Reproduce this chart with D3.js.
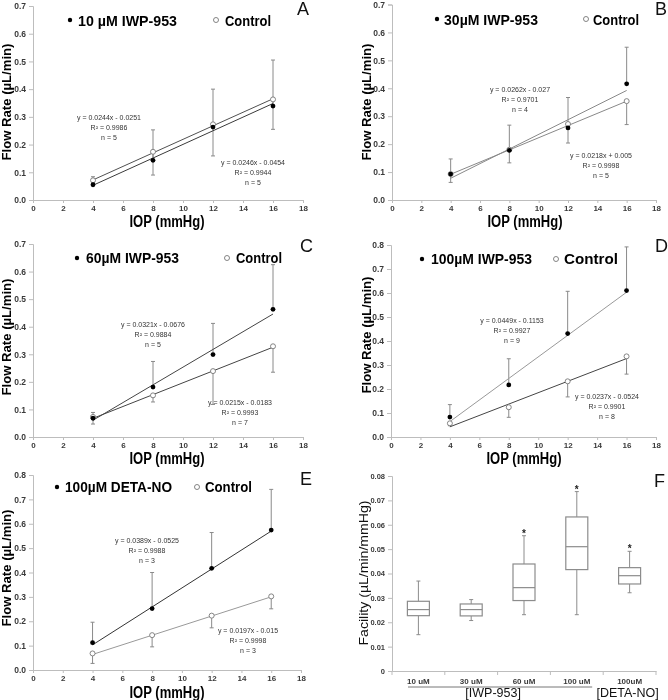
<!DOCTYPE html>
<html><head><meta charset="utf-8">
<script src="https://cdn.jsdelivr.net/npm/d3@7"></script>
<style>body{margin:0;background:#fff}svg{display:block;will-change:transform}</style>
</head><body>
<svg id="chart" width="668" height="700"></svg>
<script>
// ---------- DATA ----------
const iop = [4, 8, 12, 16];
const xTickValues = [0, 2, 4, 6, 8, 10, 12, 14, 16, 18];
const legendNames = ["10 µM IWP-953", "30µM IWP-953", "60µM IWP-953", "100µM IWP-953", "100µM DETA-NO"];
const controlName = "Control";
const panelLetters = ["A", "B", "C", "D", "E", "F"];

// Panel A (10 µM IWP-953)
const drugA = [0.055, 0.143, 0.263, 0.339];
const drugErrA = [0.029, 0.110, 0.137, 0.166];
const ctrlA = [0.071, 0.174, 0.273, 0.363];
const ctrlErrA = [0.008, 0.084, 0.114, 0.108];
const slopeA = [0.0246, 0.0244], interceptA = [-0.0454, -0.0251], r2A = [0.9944, 0.9986], nA = [5, 5];

// Panel B (30 µM IWP-953)
const drugB = [0.093, 0.178, 0.258, 0.416];
const drugErrB = [0.054, 0.090, 0.109, 0.131];
const ctrlB = [0.093, 0.180, 0.272, 0.354];
const ctrlErrB = [0.030, 0.047, 0.068, 0.084];
const slopeB = [0.0262, 0.0218], interceptB = [-0.027, 0.005], r2B = [0.9701, 0.9998], nB = [4, 5];

// Panel C (60 µM IWP-953)
const drugC = [0.068, 0.181, 0.299, 0.463];
const drugErrC = [0.021, 0.093, 0.113, 0.162];
const ctrlC = [0.073, 0.151, 0.239, 0.329];
const ctrlErrC = [0.026, 0.024, 0.121, 0.094];
const slopeC = [0.0321, 0.0215], interceptC = [-0.0676, -0.0183], r2C = [0.9884, 0.9993], nC = [5, 7];

// Panel D (100 µM IWP-953)
const drugD = [0.083, 0.217, 0.431, 0.610];
const drugErrD = [0.052, 0.109, 0.176, 0.182];
const ctrlD = [0.057, 0.124, 0.232, 0.336];
const ctrlErrD = [0.010, 0.042, 0.065, 0.074];
const slopeD = [0.0449, 0.0237], interceptD = [-0.1153, -0.0524], r2D = [0.9927, 0.9901], nD = [9, 8];

// Panel E (100 µM DETA-NO)
const drugE = [0.112, 0.252, 0.417, 0.574];
const drugErrE = [0.084, 0.148, 0.147, 0.167];
const ctrlE = [0.068, 0.143, 0.223, 0.302];
const ctrlErrE = [0.041, 0.048, 0.050, 0.051];
const slopeE = [0.0389, 0.0197], interceptE = [-0.0525, -0.015], r2E = [0.9988, 0.9998], nE = [3, 3];

// Panel F (facility box plot)
const facCats = ["10 uM", "30 uM", "60 uM", "100 uM", "100uM"];
const facMin = [0.0149, 0.0207, 0.0231, 0.0231, 0.0321];
const facQ1 = [0.0227, 0.0226, 0.0289, 0.0416, 0.0357];
const facMed = [0.0252, 0.0252, 0.0342, 0.0510, 0.0391];
const facQ3 = [0.0286, 0.0275, 0.0439, 0.0632, 0.0424];
const facMax = [0.0369, 0.0293, 0.0555, 0.0736, 0.0491];
const facSig = ["", "", "*", "*", "*"];
const facTicks = [0, 0.01, 0.02, 0.03, 0.04, 0.05, 0.06, 0.07, 0.08];
const groupLabels = ["[IWP-953]", "[DETA-NO]"];

// ---------- STYLE ----------
const FONT = "'Liberation Sans', Arial, sans-serif";
const AXIS = "#bdbdbd";
const TICKTXT = "#3a3a3a";
const svg = d3.select("#chart");

const panels = [
  {drug: drugA, drugErr: drugErrA, ctrl: ctrlA, ctrlErr: ctrlErrA, slope: slopeA, icpt: interceptA, r2: r2A, n: nA,
   x0: 33, x1: 303, yTop: 6, y0: 200, yMax: 0.7, xTitle: [167, 227], yTitle: [11, 102], letter: [297, 15],
   dot: [70, 20], txt: [78, 26, 99], cdot: [216, 20], ctxt: [225, 26, 46],
   eq: [[253, 164.5], [109, 119.5]], lc: ["#3a3a3a", "#505050"]},
  {drug: drugB, drugErr: drugErrB, ctrl: ctrlB, ctrlErr: ctrlErrB, slope: slopeB, icpt: interceptB, r2: r2B, n: nB,
   x0: 392, x1: 656, yTop: 4.5, y0: 200, yMax: 0.7, xTitle: [525, 227], yTitle: [371, 102], letter: [655, 15],
   dot: [437, 19], txt: [444, 25, 94], cdot: [586, 19], ctxt: [593, 25, 46],
   eq: [[520, 91.5], [601, 157.5]], lc: ["#888", "#888"]},
  {drug: drugC, drugErr: drugErrC, ctrl: ctrlC, ctrlErr: ctrlErrC, slope: slopeC, icpt: interceptC, r2: r2C, n: nC,
   x0: 33, x1: 303, yTop: 244, y0: 437, yMax: 0.7, xTitle: [167, 464], yTitle: [11, 337], letter: [300, 252],
   dot: [77, 258], txt: [86, 263, 93], cdot: [227, 258], ctxt: [236, 263, 46],
   eq: [[153, 326.5], [240, 405]], lc: ["#444", "#444"]},
  {drug: drugD, drugErr: drugErrD, ctrl: ctrlD, ctrlErr: ctrlErrD, slope: slopeD, icpt: interceptD, r2: r2D, n: nD,
   x0: 391, x1: 656, yTop: 245, y0: 437, yMax: 0.8, xTitle: [524, 464], yTitle: [371, 335], letter: [655, 252],
   dot: [422, 259], txt: [431, 264, 101], cdot: [556, 259], ctxt: [564, 264, 54],
   eq: [[512, 322.5], [607, 398.5]], lc: ["#999", "#444"]},
  {drug: drugE, drugErr: drugErrE, ctrl: ctrlE, ctrlErr: ctrlErrE, slope: slopeE, icpt: interceptE, r2: r2E, n: nE,
   x0: 33, x1: 301, yTop: 475, y0: 670, yMax: 0.8, xTitle: [167, 697.5], yTitle: [11, 568], letter: [300, 485],
   dot: [57, 487], txt: [65, 492, 107], cdot: [197, 487], ctxt: [205, 492, 47],
   eq: [[147, 543], [248, 632.5]], lc: ["#333", "#999"]}
];

function styleAxis(a, size) {
  a.attr("color", AXIS).attr("font-family", FONT).attr("font-size", size).attr("font-weight", "bold");
  a.selectAll("text").attr("fill", TICKTXT);
}

panels.forEach((p, k) => {
  const g = svg.append("g");
  const x = d3.scaleLinear().domain([0, 18]).range([p.x0, p.x1]);
  const y = d3.scaleLinear().domain([0, p.yMax]).range([p.y0, p.yTop]);
  const yTicks = d3.range(0, Math.round(p.yMax * 10) + 1).map(i => i / 10);

  const ya = g.append("g").attr("transform", `translate(${p.x0},0)`)
    .call(d3.axisLeft(y).tickValues(yTicks).tickSize(4).tickPadding(3).tickFormat(d3.format(".1f")));
  styleAxis(ya, 8.5);
  const xa = g.append("g").attr("transform", `translate(0,${p.y0})`)
    .call(d3.axisBottom(x).tickValues(xTickValues).tickSize(3).tickPadding(2.5));
  styleAxis(xa, 8);

  const series = [
    {vals: p.drug, errs: p.drugErr, dir: 1},
    {vals: p.ctrl, errs: p.ctrlErr, dir: -1}
  ];

  // error bars
  series.forEach(s => {
    const d = iop.map((xv, i) => ({xv, v: s.vals[i], e: s.errs[i]}));
    g.selectAll(null).data(d).join("line")
      .attr("x1", t => x(t.xv)).attr("x2", t => x(t.xv))
      .attr("y1", t => y(t.v)).attr("y2", t => y(t.v + s.dir * t.e))
      .attr("stroke", "#8a8a8a").attr("stroke-width", 1);
    g.selectAll(null).data(d).join("line")
      .attr("x1", t => x(t.xv) - 2).attr("x2", t => x(t.xv) + 2)
      .attr("y1", t => y(t.v + s.dir * t.e)).attr("y2", t => y(t.v + s.dir * t.e))
      .attr("stroke", "#8a8a8a").attr("stroke-width", 1);
  });

  // trend lines
  [0, 1].forEach(j => {
    const ends = [iop[0], iop[iop.length - 1]].map(xv => [xv, p.slope[j] * xv + p.icpt[j]]);
    g.append("path").datum(ends)
      .attr("d", d3.line().x(t => x(t[0])).y(t => y(t[1])))
      .attr("fill", "none").attr("stroke", p.lc[j]).attr("stroke-width", 1);
  });

  // markers
  g.selectAll(null).data(iop.map((xv, i) => ({xv, v: p.ctrl[i]}))).join("circle")
    .attr("cx", t => x(t.xv)).attr("cy", t => y(t.v)).attr("r", 2.5)
    .attr("fill", "#fff").attr("stroke", "#777").attr("stroke-width", 0.9);
  g.selectAll(null).data(iop.map((xv, i) => ({xv, v: p.drug[i]}))).join("circle")
    .attr("cx", t => x(t.xv)).attr("cy", t => y(t.v)).attr("r", 2.4)
    .attr("fill", "#000");

  // equations
  [0, 1].forEach(j => {
    const b = p.icpt[j];
    const lines = [`y = ${p.slope[j]}x ${b < 0 ? "-" : "+"} ${Math.abs(b)}`, `R² = ${p.r2[j]}`, `n = ${p.n[j]}`];
    g.selectAll(null).data(lines).join("text")
      .attr("x", p.eq[j][0]).attr("y", (t, i) => p.eq[j][1] + i * 10)
      .attr("text-anchor", "middle").attr("font-family", FONT).attr("font-size", 7)
      .attr("fill", "#333").text(t => t);
  });

  // legend
  g.append("circle").attr("cx", p.dot[0]).attr("cy", p.dot[1]).attr("r", 2.2).attr("fill", "#000");
  g.append("text").attr("x", p.txt[0]).attr("y", p.txt[1]).attr("textLength", p.txt[2])
    .attr("lengthAdjust", "spacingAndGlyphs")
    .attr("font-family", FONT).attr("font-size", 15).attr("font-weight", "bold").attr("fill", "#000")
    .text(legendNames[k]);
  g.append("circle").attr("cx", p.cdot[0]).attr("cy", p.cdot[1]).attr("r", 2.5)
    .attr("fill", "#fff").attr("stroke", "#777").attr("stroke-width", 0.9);
  g.append("text").attr("x", p.ctxt[0]).attr("y", p.ctxt[1]).attr("textLength", p.ctxt[2])
    .attr("lengthAdjust", "spacingAndGlyphs")
    .attr("font-family", FONT).attr("font-size", 15).attr("font-weight", "bold").attr("fill", "#000")
    .text(controlName);

  // axis titles
  g.append("text").attr("x", p.xTitle[0]).attr("y", p.xTitle[1]).attr("text-anchor", "middle")
    .attr("textLength", 75).attr("lengthAdjust", "spacingAndGlyphs")
    .attr("font-family", FONT).attr("font-size", 16).attr("font-weight", "bold").attr("fill", "#000")
    .text("IOP (mmHg)");
  g.append("text").attr("transform", `translate(${p.yTitle[0]},${p.yTitle[1]}) rotate(-90)`)
    .attr("text-anchor", "middle").attr("textLength", 117).attr("lengthAdjust", "spacingAndGlyphs")
    .attr("font-family", FONT).attr("font-size", 13).attr("font-weight", "bold").attr("fill", "#000")
    .text("Flow Rate (µL/min)");

  // panel letter
  g.append("text").attr("x", p.letter[0]).attr("y", p.letter[1])
    .attr("font-family", FONT).attr("font-size", 18).attr("fill", "#111").text(panelLetters[k]);
});

// ---------- Panel F ----------
(function () {
  const g = svg.append("g");
  const x0 = 392, x1 = 656, y0 = 671, yTop = 476;
  const xb = d3.scaleBand().domain(facCats).range([x0, x1]);
  const y = d3.scaleLinear().domain([0, 0.08]).range([y0, yTop]);

  const ya = g.append("g").attr("transform", `translate(${x0},0)`)
    .call(d3.axisLeft(y).tickValues(facTicks).tickSize(4).tickPadding(3)
      .tickFormat(d => d === 0 ? "0" : d3.format(".2f")(d)));
  styleAxis(ya, 7.5);

  const xa = g.append("g").attr("transform", `translate(0,${y0})`)
    .call(d3.axisBottom(xb).tickSize(0).tickPadding(7));
  styleAxis(xa, 8);
  // boundary ticks
  const bounds = facCats.map(c => xb(c)).concat([x1]);
  g.selectAll(null).data(bounds).join("line")
    .attr("x1", d => d).attr("x2", d => d).attr("y1", y0).attr("y2", y0 + 4)
    .attr("stroke", AXIS);

  const bw = 22;
  const data = facCats.map((c, i) => ({c, mn: facMin[i], q1: facQ1[i], md: facMed[i], q3: facQ3[i], mx: facMax[i], s: facSig[i]}));
  const cx = d => xb(d.c) + xb.bandwidth() / 2;
  const STK = "#8c8c8c";
  // whiskers
  g.selectAll(null).data(data).join("line")
    .attr("x1", cx).attr("x2", cx).attr("y1", d => y(d.mn)).attr("y2", d => y(d.q1)).attr("stroke", STK);
  g.selectAll(null).data(data).join("line")
    .attr("x1", cx).attr("x2", cx).attr("y1", d => y(d.q3)).attr("y2", d => y(d.mx)).attr("stroke", STK);
  ["mn", "mx"].forEach(key => {
    g.selectAll(null).data(data).join("line")
      .attr("x1", d => cx(d) - 2).attr("x2", d => cx(d) + 2)
      .attr("y1", d => y(d[key])).attr("y2", d => y(d[key])).attr("stroke", STK);
  });
  // boxes
  g.selectAll(null).data(data).join("rect")
    .attr("x", d => cx(d) - bw / 2).attr("width", bw)
    .attr("y", d => y(d.q3)).attr("height", d => y(d.q1) - y(d.q3))
    .attr("fill", "#fff").attr("stroke", STK).attr("stroke-width", 1.2);
  g.selectAll(null).data(data).join("line")
    .attr("x1", d => cx(d) - bw / 2).attr("x2", d => cx(d) + bw / 2)
    .attr("y1", d => y(d.md)).attr("y2", d => y(d.md)).attr("stroke", STK).attr("stroke-width", 1.2);
  // significance
  g.selectAll(null).data(data.filter(d => d.s)).join("text")
    .attr("x", cx).attr("y", d => y(d.mx) + 1).attr("text-anchor", "middle")
    .attr("font-family", FONT).attr("font-size", 10).attr("font-weight", "bold").attr("fill", "#222")
    .text(d => d.s);

  // group labels
  const gStart = xb(facCats[0]) + 16, gEnd = xb(facCats[3]) + xb.bandwidth() - 11;
  g.append("line").attr("x1", gStart).attr("x2", gEnd).attr("y1", 687).attr("y2", 687)
    .attr("stroke", "#777").attr("stroke-width", 1);
  g.append("text").attr("x", (gStart + gEnd) / 2 - 7).attr("y", 697).attr("text-anchor", "middle")
    .attr("font-family", FONT).attr("font-size", 12.5).attr("fill", "#111").text(groupLabels[0]);
  g.append("text").attr("x", cx(data[4]) - 2).attr("y", 697).attr("text-anchor", "middle")
    .attr("font-family", FONT).attr("font-size", 12.5).attr("fill", "#111").text(groupLabels[1]);

  // y title
  g.append("text").attr("transform", `translate(368,573) rotate(-90)`)
    .attr("text-anchor", "middle").attr("textLength", 145).attr("lengthAdjust", "spacingAndGlyphs")
    .attr("font-family", FONT).attr("font-size", 13.5).attr("fill", "#111")
    .text("Facility (µL/min/mmHg)");
  g.append("text").attr("x", 654).attr("y", 487)
    .attr("font-family", FONT).attr("font-size", 18).attr("fill", "#111").text(panelLetters[5]);
})();
</script>
</body></html>
